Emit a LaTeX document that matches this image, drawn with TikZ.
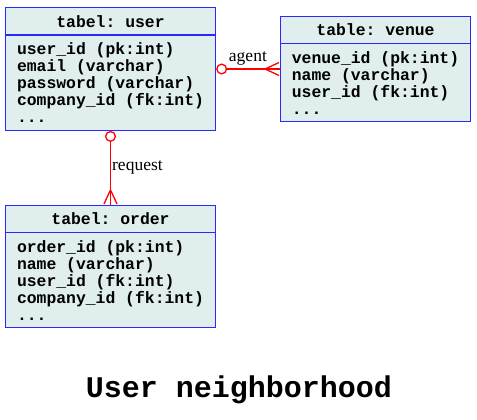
\documentclass[tikz,border=0pt]{standalone}
\usepackage{fontspec}
\setmainfont{Liberation Serif}
\setmonofont{Liberation Mono}
\usepackage{tikz}
\usetikzlibrary{arrows.meta, shapes.multipart, positioning}
\definecolor{tablefill}{HTML}{E0EEEE}
\definecolor{tableline}{HTML}{2828FF}

\tikzset{
    tbl/.style={rectangle split, rectangle split parts=2, draw=tableline, fill=tablefill,
        line width=1.3bp, inner xsep=11.5bp, inner ysep=7bp, align=left,
        rectangle split part align={center,left},
        font=\fontsize{16.4bp}{17bp}\selectfont\ttfamily\bfseries},
    rel/.style={draw=red, line width=1.3bp, {Circle[open, fill=white, length=11bp]}-,
        postaction={draw=red, shorten <=11bp, -{Straight Barb[reversed, length=14bp, width=13bp]}}},
    lab/.style={font=\fontsize{17.5bp}{20bp}\selectfont}
}

\begin{document}
\begin{tikzpicture}[x=1bp, y=1bp]
        \useasboundingbox (0,0) rectangle (477,419);

        % tables
        \node[tbl] (user) at (110.5,350) {tabel: user
            \nodepart{second} user\_id (pk:int)\\ email (varchar)\\ password (varchar)\\ company\_id (fk:int)\\ ...};
        \node[tbl] (venue) at (375.5,350) {table: venue
            \nodepart{second} venue\_id (pk:int)\\ name (varchar)\\ user\_id (fk:int)\\ ...};
        \node[tbl] (order) at (110.5,152.5) {tabel: order
            \nodepart{second} order\_id (pk:int)\\ name (varchar)\\ user\_id (fk:int)\\ company\_id (fk:int)\\ ...};

        % relations
        \draw[rel] (user) -- node[lab, above] {agent} (venue);
        \draw[rel] (user) -- node[lab, right, inner xsep=1bp] {request} (order);

        % caption
        \node[anchor=base, font=\fontsize{30bp}{34bp}\selectfont\ttfamily\bfseries] (title) at (239,22) {User neighborhood};
    \end{tikzpicture}
\end{document}
